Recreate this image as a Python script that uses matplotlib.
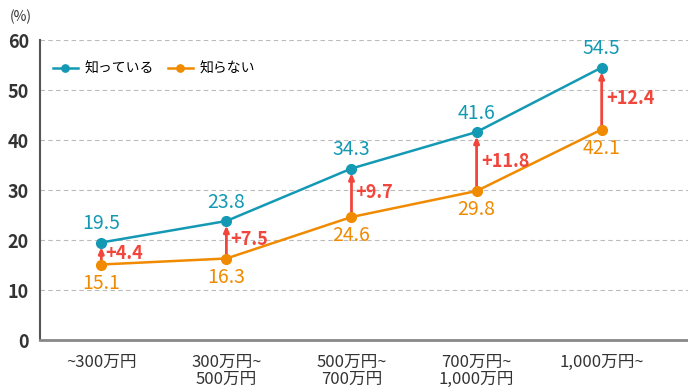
import matplotlib
matplotlib.use("Agg")
import matplotlib.pyplot as plt
from matplotlib import font_manager

plt.rcParams['font.family'] = ['Noto Sans CJK JP', 'DejaVu Sans']

categories = ["~300万円", "300万円~\n500万円", "500万円~\n700万円", "700万円~\n1,000万円", "1,000万円~"]
know = [19.5, 23.8, 34.3, 41.6, 54.5]
dont_know = [15.1, 16.3, 24.6, 29.8, 42.1]
diffs = ["+4.4", "+7.5", "+9.7", "+11.8", "+12.4"]
series_names = ["知っている", "知らない"]

teal = "#1499b4"
orange = "#f08a00"
red = "#f0463c"
dark = "#333333"

names = {f.name for f in font_manager.fontManager.ttflist}
narrow = ['Liberation Sans Narrow'] if 'Liberation Sans Narrow' in names else []
num_family = narrow + ['Noto Sans CJK JP', 'DejaVu Sans']

fig = plt.figure(figsize=(6.88, 3.90), dpi=100)
ax = fig.add_axes([40/688, 50/390, 648/688, 300/390])

x = list(range(len(categories)))
ax.plot(x, know, color=teal, lw=1.8, marker='o', ms=7, label=series_names[0], zorder=3)
ax.plot(x, dont_know, color=orange, lw=1.8, marker='o', ms=7, label=series_names[1], zorder=3)

for i in x:
    ax.annotate("", xy=(i, know[i] - 0.9), xytext=(i, dont_know[i]),
                arrowprops=dict(arrowstyle='-|>,head_length=0.35,head_width=0.15', color=red, lw=2.0,
                                shrinkA=0, shrinkB=0), zorder=2)
    ax.annotate(f"{know[i]}", (i, know[i]), xytext=(0, 6), textcoords='offset points',
                ha='center', va='bottom', color=teal, fontsize=14, family=num_family)
    ax.annotate(f"{dont_know[i]}", (i, dont_know[i]), xytext=(0, -6), textcoords='offset points',
                ha='center', va='top', color=orange, fontsize=14, family=num_family)
    ax.annotate(diffs[i], (i, (know[i] + dont_know[i]) / 2), xytext=(3, 0), textcoords='offset points',
                ha='left', va='center', color=red, fontsize=13, fontweight='bold', family=num_family)

ax.set_ylim(0, 60)
ax.set_xlim(-0.49, 4.69)
ax.set_yticks(range(0, 61, 10))
ax.set_xticks(x)
ax.set_xticklabels(categories, fontsize=12, color=dark, linespacing=1.0)
for lbl in ax.get_yticklabels():
    lbl.set_fontweight('bold')
    lbl.set_fontsize(13)
    lbl.set_color(dark)
ax.tick_params(axis='both', length=0, pad=8)
ax.tick_params(axis='x', pad=10)
ax.grid(axis='y', color='#bbbbbb', ls=(0, (4, 3)), lw=0.8)
ax.set_axisbelow(True)
for s in ['top', 'right']:
    ax.spines[s].set_visible(False)
ax.spines['left'].set_color('#555555')
ax.spines['bottom'].set_color('#888888')
ax.spines['left'].set_linewidth(1.5)
ax.spines['bottom'].set_linewidth(2)

ax.legend(loc='upper left', bbox_to_anchor=(0.0, 0.97), frameon=False, ncol=2, fontsize=10,
          handlelength=1.8, columnspacing=1.0, handletextpad=0.5, markerscale=0.75)

fig.text(10/688, 1 - 17/390, "(%)", fontsize=10, color=dark, va='center', ha='left')

fig.savefig("out.png", dpi=100)
